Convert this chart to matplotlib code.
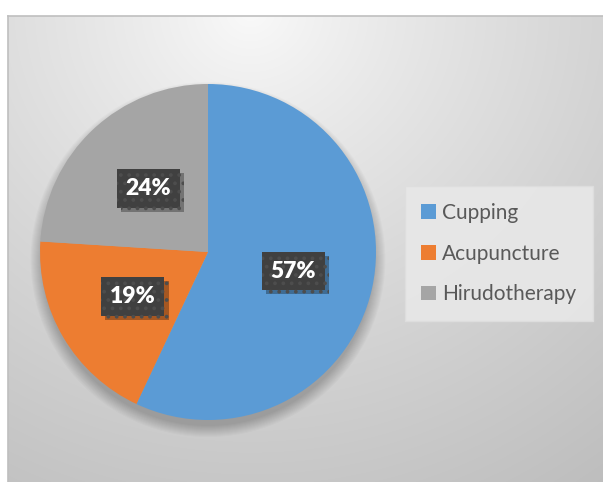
import numpy as np
import matplotlib.pyplot as plt
import matplotlib.patheffects as pe
from matplotlib.patches import Circle

# chart data
categories = ["Cupping", "Acupuncture", "Hirudotherapy"]
shares = [57, 19, 24]
colors = ["#5B9BD5", "#ED7D31", "#A5A5A5"]

plt.rcParams["hatch.linewidth"] = 1.5

W, H = 603, 482
fig = plt.figure(figsize=(W / 100, H / 100), dpi=100)
fig.patch.set_facecolor("white")

# chart area with soft radial background
left, top = 8, 16
bg = fig.add_axes([left / W, 0, 1 - left / W, 1 - top / H])
xx, yy = np.meshgrid(np.arange(left, W), np.arange(top, H))
d = np.hypot(xx - 250, (yy - 10) * 1.05)
v = 250 - 58 * (d / 580) ** 0.85
v = np.clip(v, 0, 255) / 255
bg.imshow(np.dstack([v, v, v]), aspect="auto", interpolation="bilinear",
          extent=(0, 1, 0, 1), origin="upper")
bg.set_xticks([])
bg.set_yticks([])
for side, sp in bg.spines.items():
    sp.set_color("#bfbfbf")
    sp.set_linewidth(1.2)
    if side in ("right", "bottom"):
        sp.set_visible(False)

# pie axes: centre (208, 252) px, radius 168 px
cx, cy, r = 208, 252, 168
ax = fig.add_axes([(cx - r) / W, (H - cy - r) / H, 2 * r / W, 2 * r / H])
ax.set_zorder(2)

# soft shadow behind the pie, mostly below it
for i in range(12):
    ax.add_patch(Circle((0, -0.045), 0.99 + i * 0.006, facecolor="black",
                        alpha=0.018, edgecolor="none", clip_on=False, zorder=0))

wedges, _, autotexts = ax.pie(
    shares, colors=colors, startangle=90, counterclock=False,
    autopct="%.0f%%", pctdistance=0.52,
    wedgeprops=dict(linewidth=0, zorder=2),
)
ax.set_xlim(-1, 1)
ax.set_ylim(-1, 1)
ax.set_aspect("equal")
ax.axis("off")

for t in autotexts:
    t.set_fontsize(16.5)
    t.set_fontweight("heavy")
    t.set_family("Lato")
    t.set_color("white")
    t.set_zorder(4)
    t.set_bbox(dict(boxstyle="square,pad=0.38", facecolor="#404040",
                    edgecolor="#4d4d4d", linewidth=0, hatch=".."))
    t.get_bbox_patch().set_path_effects([
        pe.SimplePatchShadow(offset=(3, -3), shadow_rgbFace="black", alpha=0.3),
        pe.Normal(),
    ])

leg = fig.legend(
    wedges, categories, loc="center", bbox_to_anchor=(0.827, 0.474),
    prop=dict(family="Lato", size=15), labelcolor="#595959",
    frameon=True, fancybox=False, handlelength=0.7, handleheight=0.7,
    handletextpad=0.3, labelspacing=1.0, borderpad=0.8, borderaxespad=0,
)
leg.get_frame().set_facecolor("#e8e8e8")
leg.get_frame().set_edgecolor("#dedede")
leg.get_frame().set_alpha(0.9)

fig.savefig("out.png", dpi=100)
